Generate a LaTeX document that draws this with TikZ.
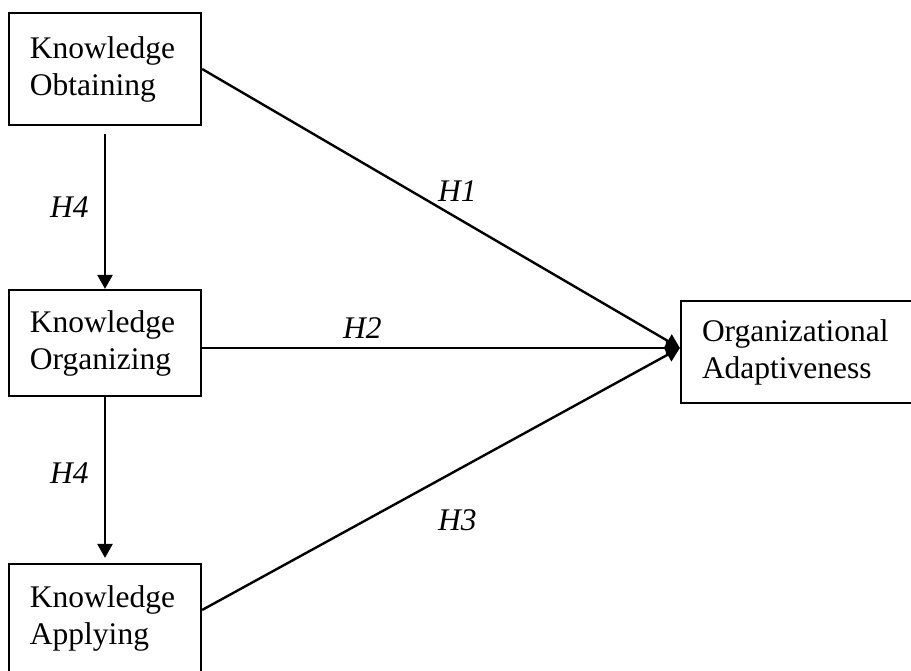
\documentclass[tikz,border=0pt]{standalone}
\usepackage{fontspec}
\setmainfont{Liberation Serif}
\usetikzlibrary{arrows.meta}
\begin{document}
\begin{tikzpicture}[x=1pt,y=-1pt,
  font=\fontsize{31.5}{37}\selectfont,
  box/.style={draw, line width=2.2pt, rectangle, align=left, inner xsep=21pt, inner ysep=0pt, anchor=center},
  arr/.style={line width=2.4pt, -{Triangle[length=14pt,width=15pt]}},
  hlab/.style={font=\fontsize{31.5}{37}\selectfont\itshape, anchor=base west, inner sep=0pt}]
\useasboundingbox (0,0) rectangle (911,671);
\fill[white] (0,0) rectangle (911,671);
\clip (0,0) rectangle (911,671);
\node[box, minimum width=192pt, minimum height=112pt, text width=150pt] (b1) at (105,69) {Knowledge\\Obtaining};
\node[box, minimum width=192pt, minimum height=106pt, text width=150pt] (b2) at (105,343) {Knowledge\\Organizing};
\node[box, minimum width=192pt, minimum height=108pt, text width=150pt] (b3) at (105,618) {Knowledge\\Applying};
\node[box, minimum width=232pt, minimum height=102pt, text width=190pt] (b4) at (797,352) {Organizational\\Adaptiveness};
\coordinate (m) at ([yshift=4pt]b4.west);
\draw[arr] ([yshift=-8pt]b1.south) -- (b2.north);
\draw[arr] (b2.south) -- ([yshift=5pt]b3.north);
\draw[arr] (b1.east) -- (m);
\draw[arr] ([yshift=-5pt]b2.east) -- (m);
\draw[arr] ([yshift=8pt]b3.east) -- (m);
\node[hlab] (h1) at (438,202) {H1};
\node[hlab] (h2) at (343,338) {H2};
\node[hlab] (h3) at (438,530) {H3};
\node[hlab] (h4a) at (50,218) {H4};
\node[hlab] (h4b) at (50,483) {H4};
\end{tikzpicture}
\end{document}
